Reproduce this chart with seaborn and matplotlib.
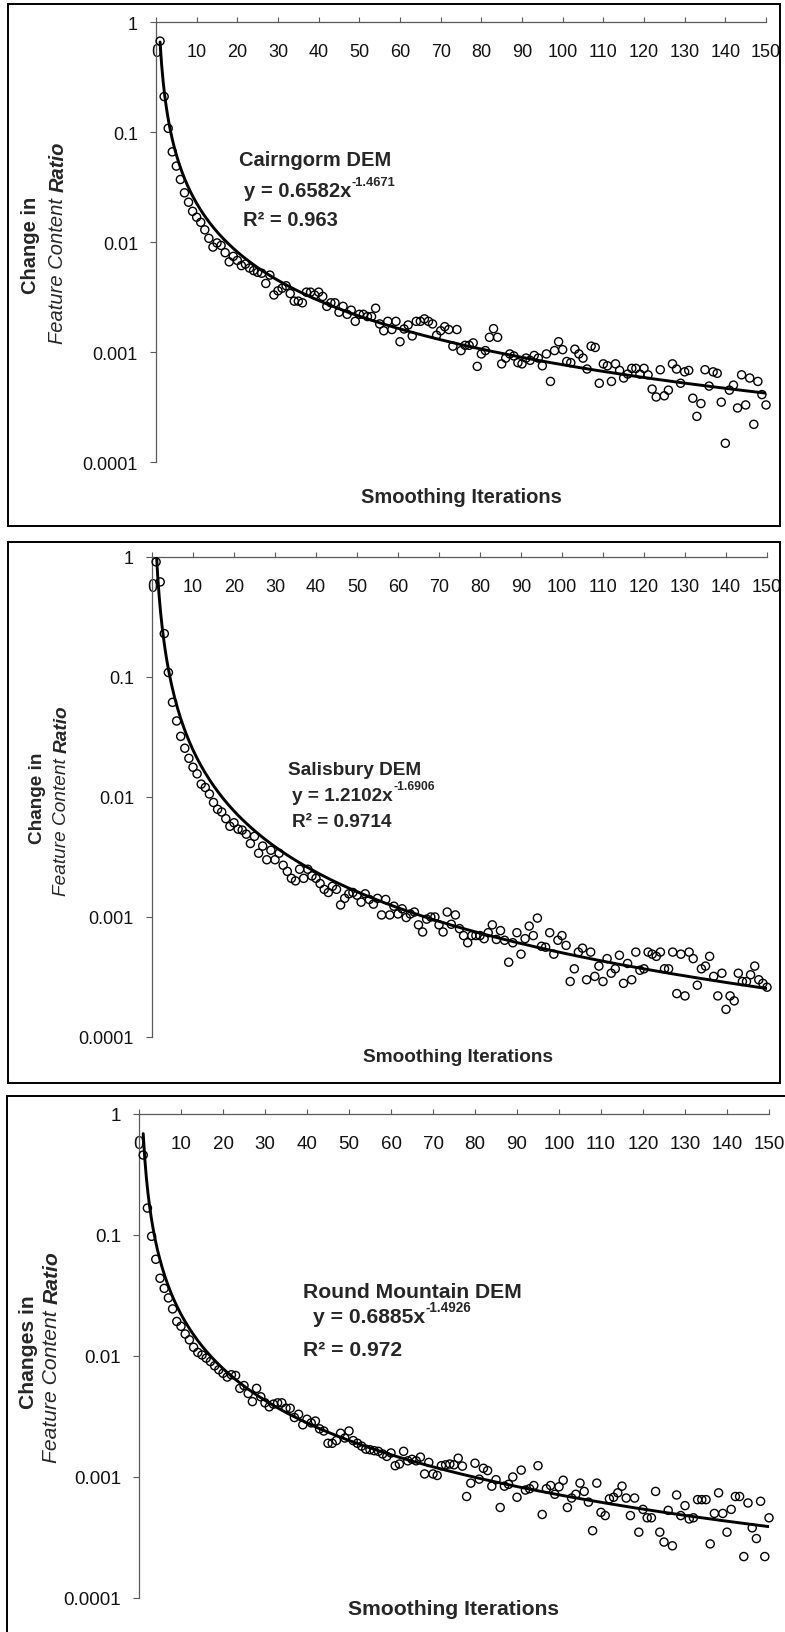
import numpy as np
import pandas as pd
import matplotlib
matplotlib.use("Agg")
import matplotlib.pyplot as plt
import seaborn as sns
from matplotlib.patches import Rectangle
from matplotlib.ticker import NullLocator

# estilo geral
sns.set_style("white")
plt.rcParams['font.family'] = ['Liberation Sans', 'DejaVu Sans']

W, H = 785, 1633  # tamanho da figura em pixels (dpi 100)

# ---- dados ----
iteracoes = list(range(1, 151))

cairngorm = [
    0.67, 0.21, 0.108, 0.066, 0.049, 0.037, 0.028, 0.023, 0.019, 0.0168,
    0.0151, 0.0129, 0.0108, 0.0090, 0.0098, 0.0093, 0.0080, 0.0066, 0.0074, 0.0068,
    0.0061, 0.0063, 0.0058, 0.0055, 0.0053, 0.0052, 0.0042, 0.0050, 0.0033, 0.0036,
    0.0038, 0.0040, 0.0034, 0.0029, 0.0029, 0.0028, 0.0035, 0.0035, 0.0033, 0.0035,
    0.0032, 0.0026, 0.0028, 0.0028, 0.0023, 0.0026, 0.0022, 0.0024, 0.0019, 0.0022,
    0.0022, 0.0021, 0.0021, 0.0025, 0.0018, 0.00156, 0.0019, 0.0016, 0.0019, 0.00124,
    0.00162, 0.00176, 0.0014, 0.0019, 0.0019, 0.0020, 0.0019, 0.0018, 0.00142, 0.00156,
    0.0017, 0.0016, 0.00113, 0.0016, 0.00103, 0.00115, 0.00115, 0.00121, 0.00074, 0.00096,
    0.00103, 0.00136, 0.00163, 0.00136, 0.00078, 0.00088, 0.00096, 0.00092, 0.0008, 0.00078,
    0.00088, 0.00084, 0.00093, 0.00088, 0.00075, 0.00096, 0.00054, 0.00103, 0.00124, 0.00105,
    0.00082, 0.0008, 0.00106, 0.00096, 0.00088, 0.0007, 0.00113, 0.00110, 0.00052, 0.00078,
    0.00075, 0.00054, 0.00078, 0.00068, 0.00058, 0.00063, 0.00071, 0.00071, 0.00063, 0.00071,
    0.00062, 0.00046, 0.00039, 0.00069, 0.0004, 0.00045, 0.00078, 0.0007, 0.00052, 0.00066,
    0.00068, 0.00038, 0.00026, 0.00034, 0.00069, 0.00049, 0.00066, 0.00064, 0.00035, 0.000148,
    0.00045, 0.0005, 0.00031, 0.00062, 0.00033, 0.00058, 0.00022, 0.00054, 0.00041, 0.00033,
]

salisbury = [
    0.91, 0.62, 0.23, 0.109, 0.0615, 0.043, 0.032, 0.0255, 0.021, 0.0177,
    0.0156, 0.0128, 0.012, 0.0106, 0.0090, 0.0079, 0.0075, 0.0066, 0.0057, 0.0061,
    0.0054, 0.0053, 0.0049, 0.0041, 0.0047, 0.0034, 0.0039, 0.0030, 0.0036, 0.0030,
    0.0034, 0.0027, 0.0024, 0.0021, 0.0020, 0.0025, 0.0021, 0.0025, 0.0022, 0.0021,
    0.0019, 0.0017, 0.0016, 0.0018, 0.0017, 0.00126, 0.00143, 0.00156, 0.0016, 0.00152,
    0.00133, 0.00156, 0.0014, 0.00128, 0.00143, 0.00104, 0.0014, 0.00104, 0.00123, 0.00106,
    0.00117, 0.00099, 0.00106, 0.0011, 0.00086, 0.00075, 0.00096, 0.001, 0.001, 0.00086,
    0.00075, 0.0011, 0.00087, 0.00104, 0.0008, 0.0007, 0.00061, 0.0007, 0.0007, 0.0007,
    0.00066, 0.00074, 0.00086, 0.00065, 0.00077, 0.00064, 0.00042, 0.00061, 0.00074, 0.00049,
    0.00066, 0.00084, 0.0007, 0.00098, 0.00057, 0.00056, 0.00074, 0.00049, 0.00064, 0.0007,
    0.00058, 0.00029, 0.00037, 0.00051, 0.00055, 0.0003, 0.00051, 0.00032, 0.00039, 0.00029,
    0.00045, 0.00034, 0.00037, 0.00048, 0.00028, 0.00041, 0.0003, 0.00051, 0.00036, 0.00037,
    0.00051, 0.00049, 0.00047, 0.00051, 0.00037, 0.00037, 0.00051, 0.00023, 0.00049, 0.00022,
    0.00051, 0.00045, 0.00027, 0.00037, 0.00039, 0.00047, 0.00032, 0.00022, 0.00034, 0.00017,
    0.00022, 0.0002, 0.00034, 0.00029, 0.00029, 0.00033, 0.00039, 0.0003, 0.00028, 0.00026,
]

round_mountain = [
    0.458, 0.167, 0.0975, 0.063, 0.0439, 0.0362, 0.0302, 0.0245, 0.0193, 0.0176,
    0.0152, 0.0136, 0.0118, 0.0107, 0.0102, 0.0096, 0.0090, 0.0083, 0.0077, 0.0072,
    0.0067, 0.0070, 0.0069, 0.0054, 0.0057, 0.0049, 0.0042, 0.0054, 0.0046, 0.0041,
    0.0038, 0.0040, 0.0041, 0.0041, 0.0037, 0.0037, 0.0031, 0.0033, 0.0027, 0.0030,
    0.0028, 0.0029, 0.0025, 0.0024, 0.0019, 0.0019, 0.0020, 0.0023, 0.0021, 0.0024,
    0.0020, 0.0019, 0.0018, 0.0017, 0.00168, 0.00165, 0.00163, 0.00155, 0.00148, 0.00158,
    0.00124, 0.00128, 0.00163, 0.00136, 0.0014, 0.00136, 0.00146, 0.00106, 0.00132, 0.00106,
    0.00103, 0.00124, 0.00126, 0.00128, 0.00126, 0.00143, 0.00123, 0.00069, 0.00089, 0.0013,
    0.00096, 0.00118, 0.00113, 0.00084, 0.00095, 0.00056, 0.00084, 0.00087, 0.001, 0.00068,
    0.00114, 0.00078, 0.0008, 0.00085, 0.00124, 0.00049, 0.0008, 0.00085, 0.00072, 0.00083,
    0.00094, 0.00056, 0.00067, 0.00072, 0.00089, 0.00076, 0.00062, 0.00036, 0.00089, 0.00051,
    0.00048, 0.00066, 0.00068, 0.00074, 0.00084, 0.00067, 0.00048, 0.00067, 0.00035, 0.00054,
    0.00046, 0.00046, 0.00076, 0.00035, 0.00029, 0.00053, 0.00027, 0.00071, 0.00048, 0.00058,
    0.00045, 0.00046, 0.00065, 0.00065, 0.00065, 0.00028, 0.0005, 0.00074, 0.0005, 0.00035,
    0.00054, 0.00069, 0.00069, 0.00022, 0.00061, 0.00038, 0.00031, 0.00063, 0.00022, 0.00046,
]

nomes = ["Cairngorm DEM", "Salisbury DEM", "Round Mountain DEM"]
coef_a = [0.6582, 1.2102, 0.6885]
coef_b = [-1.4671, -1.6906, -1.4926]
r2 = ["0.963", "0.9714", "0.972"]
rotulo_y1 = ["Change in", "Change in", "Changes in"]
rotulo_y2 = ("Feature Content", "Ratio")
rotulo_x = "Smoothing Iterations"
y_ticks = [0.0001, 0.001, 0.01, 0.1, 1]
y_ticklabels = ["0.0001", "0.001", "0.01", "0.1", "1"]
x_ticks = list(range(0, 151, 10))

# ---- layout (pixels, origem no topo) ----
paineis = [
    dict(dados=cairngorm, eixo=(156, 23, 766, 463), moldura=(8, 5, 780, 527),
         fs=14.5, ts=13, nome=(239, 166), eq=(244, 197), r2=(243, 226),
         y1=(31, 245), y2=(58, 243), xl=(461, 498)),
    dict(dados=salisbury, eixo=(152, 558, 767, 1038), moldura=(8, 543, 780, 1084),
         fs=13.7, ts=13, nome=(288, 775), eq=(292, 801), r2=(292, 827),
         y1=(37, 798), y2=(62, 801), xl=(458, 1058)),
    dict(dados=round_mountain, eixo=(139, 1115, 769, 1599), moldura=(7, 1097, 800, 1660),
         fs=15.2, ts=13.5, nome=(303, 1298), eq=(313, 1323), r2=(303, 1356),
         y1=(29, 1352), y2=(52, 1357), xl=(454, 1610)),
]

COR_EIXO = '#5a5a5a'


def fx(x):
    return x / W


def fy(y):
    return 1 - y / H


fig = plt.figure(figsize=(W / 100, H / 100), dpi=100)
rend = fig.canvas.get_renderer()

for i, p in enumerate(paineis):
    l, t, r, b = p['eixo']
    ax = fig.add_axes([fx(l), fy(b), (r - l) / W, (b - t) / H])
    ax.set_yscale('log')

    df = pd.DataFrame({'iteracao': iteracoes, 'valor': p['dados']})
    sns.scatterplot(data=df, x='iteracao', y='valor', ax=ax, color='black',
                    s=34, linewidth=1.0, zorder=3, clip_on=False)
    pts = ax.collections[-1]
    pts.set_facecolor('none')
    pts.set_edgecolor('black')

    # linha de tendencia (potencia) com os coeficientes exibidos
    xs = np.linspace(1, 150, 400)
    tendencia = pd.DataFrame({'x': xs, 'y': coef_a[i] * xs ** coef_b[i]})
    sns.lineplot(data=tendencia, x='x', y='y', ax=ax, color='black', lw=2.1, zorder=4)

    ax.set_xlim(0, 150)
    ax.set_ylim(0.0001, 1)
    ax.set_xlabel('')
    ax.set_ylabel('')
    ax.set_yticks(y_ticks)
    ax.set_yticklabels(y_ticklabels)
    ax.yaxis.set_minor_locator(NullLocator())
    ax.set_xticks(x_ticks)
    ax.set_xticklabels([str(v) for v in x_ticks])
    ax.xaxis.set_ticks_position('top')

    ax.tick_params(axis='y', which='major', direction='out', length=4.5, width=0.8,
                   color=COR_EIXO, pad=8.5, labelsize=p['ts'], labelcolor='#111111', left=True)
    ax.tick_params(axis='x', which='major', direction='out', length=3.5, width=0.8,
                   color=COR_EIXO, top=True, bottom=False, labeltop=True, labelbottom=False,
                   pad=-31, labelsize=p['ts'], labelcolor='#111111')

    for lado in ['right', 'bottom']:
        ax.spines[lado].set_visible(False)
    for lado in ['top', 'left']:
        ax.spines[lado].set_visible(True)
        ax.spines[lado].set_color(COR_EIXO)
        ax.spines[lado].set_linewidth(0.9)
    ax.patch.set_alpha(0)

    fs = p['fs']

    # moldura do painel
    ml, mt, mr, mb = p['moldura']
    fig.add_artist(Rectangle((fx(ml), fy(mb)), (mr - ml) / W, (mb - mt) / H,
                             transform=fig.transFigure, fill=False, ec='black', lw=1.4))

    # titulo do eixo x
    fig.text(fx(p['xl'][0]), fy(p['xl'][1]), rotulo_x, ha='center', va='center',
             fontsize=fs, fontweight='bold')

    # rotulo do eixo y (duas linhas, segunda em italico)
    fig.text(fx(p['y1'][0]), fy(p['y1'][1]), rotulo_y1[i], rotation=90,
             ha='center', va='center', fontsize=fs, fontweight='bold')
    t1 = fig.text(fx(p['y2'][0]), 0, rotulo_y2[0], rotation=90, ha='center', va='bottom',
                  fontsize=fs, style='italic')
    t2 = fig.text(fx(p['y2'][0]), 0, rotulo_y2[1], rotation=90, ha='center', va='bottom',
                  fontsize=fs, style='italic', fontweight='bold')
    h1 = t1.get_window_extent(renderer=rend).height
    h2 = t2.get_window_extent(renderer=rend).height
    gap = 0.278 * fs * 100 / 72
    y0 = (H - p['y2'][1]) - (h1 + gap + h2) / 2
    t1.set_y(y0 / H)
    t2.set_y((y0 + h1 + gap) / H)

    # anotacoes da regressao
    fig.text(fx(p['nome'][0]), fy(p['nome'][1]), nomes[i], ha='left', va='baseline',
             fontsize=fs, fontweight='bold')
    te = fig.text(fx(p['eq'][0]), fy(p['eq'][1]), f"y = {coef_a[i]:.4f}x", ha='left',
                  va='baseline', fontsize=fs, fontweight='bold')
    bb = te.get_window_extent(renderer=rend)
    fig.text((bb.x1 + 0.5) / W, fy(p['eq'][1] - 11), f"-{abs(coef_b[i]):.4f}", ha='left',
             va='baseline', fontsize=fs * 0.64, fontweight='bold')
    fig.text(fx(p['r2'][0]), fy(p['r2'][1]), f"R\u00b2 = {r2[i]}", ha='left', va='baseline',
             fontsize=fs, fontweight='bold')

fig.savefig('out.png', dpi=100, facecolor='white')
